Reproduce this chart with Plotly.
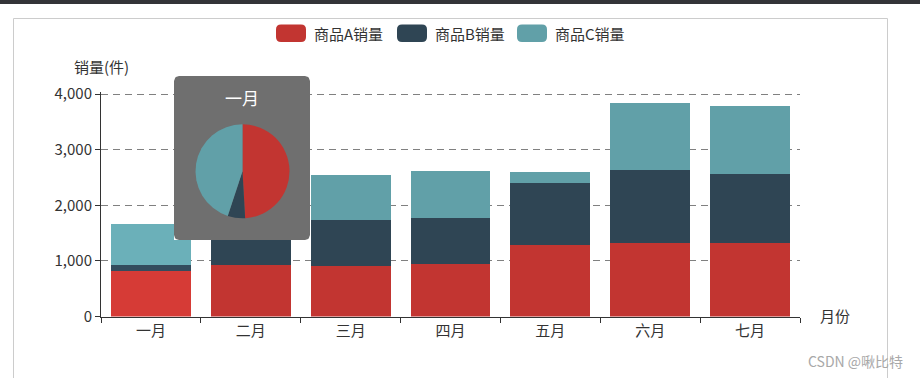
import numpy as np
import plotly.graph_objects as go

# ---------------- data ----------------
months = ["一月", "二月", "三月", "四月", "五月", "六月", "七月"]
series_names = ["商品A销量", "商品B销量", "商品C销量"]
sales_a = [820, 930, 900, 940, 1290, 1330, 1320]
sales_b = [100, 1320, 830, 840, 1110, 1310, 1250]
sales_c = [750, 0, 820, 840, 200, 1200, 1210]
y_ticks = [0, 1000, 2000, 3000, 4000]

# ---------------- style ----------------
W, H = 920, 378
FONT = "Noto Sans CJK SC, Microsoft YaHei, sans-serif"
base_colors = ["#c23531", "#2f4554", "#61a0a8"]
hl_colors = ["#d63b36", "#334c5d", "#6bb0b9"]
hovered = 0  # highlighted category (tooltip shown)


def px(x):
    return x / W


def py(y):
    return 1 - y / H


def rounded_path(x0, y0, x1, y1, r):
    def P(x, y):
        return f"{px(x):.6f},{py(y):.6f}"
    return (f"M{P(x0 + r, y0)} L{P(x1 - r, y0)} Q{P(x1, y0)} {P(x1, y0 + r)} "
            f"L{P(x1, y1 - r)} Q{P(x1, y1)} {P(x1 - r, y1)} L{P(x0 + r, y1)} "
            f"Q{P(x0, y1)} {P(x0, y1 - r)} L{P(x0, y0 + r)} Q{P(x0, y0)} {P(x0 + r, y0)} Z")


fig = go.Figure()

all_series = [sales_a, sales_b, sales_c]
for i, (name, vals) in enumerate(zip(series_names, all_series)):
    cols = [hl_colors[i] if k == hovered else base_colors[i] for k in range(len(months))]
    fig.add_trace(go.Bar(
        x=months, y=vals, name=name, marker=dict(color=cols, line=dict(width=0)),
        showlegend=False, hoverinfo="skip", xaxis="x", yaxis="y",
    ))

# tooltip background (in its own overlay subplot so the pie sits on top)
r = 5
bw, bh = 136.0, 164.0
rx, ry = r / bw, r / bh
t = np.linspace(0, np.pi / 2, 8)
corners = [
    (1 - rx, 1 - ry, 0.0),
    (rx, 1 - ry, np.pi / 2),
    (rx, ry, np.pi),
    (1 - rx, ry, 3 * np.pi / 2),
]
bx, by = [], []
for cx, cy, a0 in corners:
    bx.extend(cx + rx * np.cos(a0 + t))
    by.extend(cy + ry * np.sin(a0 + t))
bx.append(bx[0])
by.append(by[0])
fig.add_trace(go.Scatter(
    x=bx, y=by, mode="lines", fill="toself", fillcolor="rgba(50,50,50,0.7)",
    line=dict(width=0), hoverinfo="skip", showlegend=False, xaxis="x2", yaxis="y2",
))

# tooltip pie for the hovered month
cx_p, cy_p, rad = 242.5, 171.3, 47
fig.add_trace(go.Pie(
    values=[s[hovered] for s in all_series], labels=series_names,
    marker=dict(colors=base_colors, line=dict(width=0)),
    sort=False, direction="clockwise", rotation=0, textinfo="none",
    hoverinfo="skip", showlegend=False, automargin=False,
    domain=dict(x=[px(cx_p - rad), px(cx_p + rad)], y=[py(cy_p + rad), py(cy_p - rad)]),
))

axis_color = "#333333"
fig.update_layout(
    width=W, height=H, autosize=False,
    margin=dict(l=0, r=0, t=0, b=0, pad=0, autoexpand=False),
    paper_bgcolor="white", plot_bgcolor="white",
    barmode="stack", bargap=0.2,
    hovermode=False,
    font=dict(family=FONT, size=15, color=axis_color),
    xaxis=dict(
        domain=[px(101), px(800)], anchor="y", automargin=False,
        type="category", showline=True, linecolor=axis_color, linewidth=1,
        ticks="outside", tickson="boundaries", ticklen=5, tickcolor=axis_color,
        showgrid=False, tickfont=dict(size=15, color=axis_color), fixedrange=True,
    ),
    yaxis=dict(
        domain=[py(316.5), py(92)], anchor="x", automargin=False,
        range=[0, 4040], tickvals=y_ticks, tickformat=",",
        showline=True, linecolor=axis_color, linewidth=1,
        ticks="outside", ticklen=5, tickcolor=axis_color,
        showgrid=True, gridcolor="#808080", griddash="7px,5px", gridwidth=1,
        zeroline=False, tickfont=dict(size=15, color=axis_color), fixedrange=True,
    ),
    xaxis2=dict(domain=[px(174), px(310)], anchor="y2", range=[0, 1], visible=False,
                fixedrange=True, automargin=False),
    yaxis2=dict(domain=[py(240), py(76)], anchor="x2", range=[0, 1], visible=False,
                fixedrange=True, automargin=False),
)

shapes = [
    dict(type="rect", xref="paper", yref="paper", x0=0, x1=1, y0=py(4), y1=1,
         fillcolor="#333438", line=dict(width=0), layer="below"),
    dict(type="rect", xref="paper", yref="paper", x0=px(13.5), x1=px(887.5), y0=py(400), y1=py(18.5),
         fillcolor="rgba(0,0,0,0)", line=dict(color="#cccccc", width=1), layer="below"),
]
annotations = []

legend_icon_x = [276, 397, 517]
for i, name in enumerate(series_names):
    x0 = legend_icon_x[i]
    shapes.append(dict(type="path", xref="paper", yref="paper",
                       path=rounded_path(x0, 24.5, x0 + 30, 42, 5),
                       fillcolor=base_colors[i], line=dict(width=0)))
    annotations.append(dict(text=name, x=px(x0 + 36), y=py(33), xref="paper", yref="paper",
                            xanchor="left", yanchor="middle", showarrow=False,
                            font=dict(size=15, color=axis_color, family=FONT)))

annotations.append(dict(text="销量(件)", x=px(101), y=py(67), xref="paper", yref="paper",
                        xanchor="center", yanchor="middle", showarrow=False,
                        font=dict(size=15, color=axis_color, family=FONT)))
annotations.append(dict(text="月份", x=px(818), y=py(315), xref="paper", yref="paper",
                        xanchor="left", yanchor="middle", showarrow=False,
                        font=dict(size=15, color=axis_color, family=FONT)))
annotations.append(dict(text=months[hovered], x=px(242), y=py(97), xref="paper", yref="paper",
                        xanchor="center", yanchor="middle", showarrow=False,
                        font=dict(size=17, color="white", family=FONT)))
annotations.append(dict(text="CSDN @啾比特", x=px(905), y=py(361), xref="paper", yref="paper",
                        xanchor="right", yanchor="middle", showarrow=False,
                        font=dict(size=14, color="#a8a8a8", family=FONT)))

fig.update_layout(shapes=shapes, annotations=annotations)

post = ("document.body.style.margin='0';document.body.style.padding='0';"
        "document.body.style.overflow='hidden';"
        "document.documentElement.style.overflow='hidden';")
fig.write_html("out.html", config={"responsive": False, "displayModeBar": False}, post_script=post)
